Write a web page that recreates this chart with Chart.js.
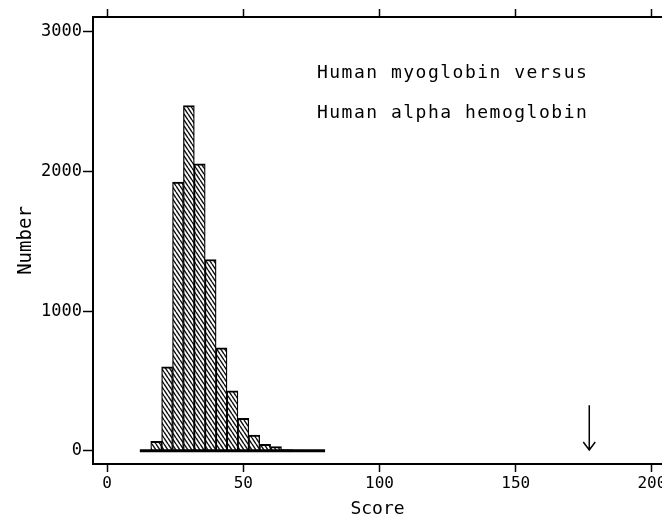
<!DOCTYPE html>
<html>
<head>
<meta charset="utf-8">
<script src="https://cdn.jsdelivr.net/npm/chart.js@4.4.1/dist/chart.umd.min.js"></script>
<style>
  html, body { margin: 0; padding: 0; background: #fff; }
  #wrap { width: 662px; height: 515px; }
</style>
</head>
<body>
<div id="wrap"><canvas id="histChart" width="662" height="515"></canvas></div>
<script>
// Score bins (left edge, width 4) and counts
const binStarts = [12, 16, 20, 24, 28, 32, 36, 40, 44, 48, 52, 56, 60, 64, 68, 72, 76];
const binWidth = 4;
const counts = [3, 67, 601, 1924, 2473, 2055, 1370, 737, 430, 232, 112, 46, 29, 8, 4, 2, 2];

// Baseline drawn under the whole range of observed scores
const baselineScores = [12, 80];

// Axis ticks
const xTicks = [0, 50, 100, 150, 200];
const yTicks = [0, 1000, 2000, 3000];

// Arrow marking the real alignment score
const arrowScore = 177;
const arrowFrom = 325;
const arrowTo = 5;

// Annotation text
const noteLines = ["Human myoglobin versus", "Human alpha hemoglobin"];
const noteScore = 77;
const noteLevels = [2668, 2382];

const FONT = "'DejaVu Sans Mono', 'Liberation Mono', monospace";

function makeHatch() {
    const w = 4, h = 6;
    const c = document.createElement("canvas");
    c.width = w; c.height = h;
    const g = c.getContext("2d");
    g.fillStyle = "#fff";
    g.fillRect(0, 0, w, h);
    g.strokeStyle = "#111";
    g.lineWidth = 1.45;
    g.beginPath();
    for (let k = -1; k <= 1; k++) {
        g.moveTo(k * w, 0);
        g.lineTo(k * w + w, h);
    }
    g.stroke();
    return g.createPattern(c, "repeat");
}

const notesAndArrow = {
    id: "notesAndArrow",
    afterDatasetsDraw(chart) {
        const { ctx, scales: { x, y } } = chart;
        ctx.save();
        ctx.fillStyle = "#000";
        ctx.font = "18px " + FONT;
        ctx.letterSpacing = "1.5px";
        ctx.textBaseline = "alphabetic";
        ctx.textAlign = "left";
        noteLines.forEach((t, i) => {
            ctx.fillText(t, x.getPixelForValue(noteScore), y.getPixelForValue(noteLevels[i]));
        });

        const ax = x.getPixelForValue(arrowScore);
        const y0 = y.getPixelForValue(arrowFrom);
        const y1 = y.getPixelForValue(arrowTo);
        ctx.strokeStyle = "#000";
        ctx.lineWidth = 1.5;
        ctx.beginPath();
        ctx.moveTo(ax, y0);
        ctx.lineTo(ax, y1);
        ctx.moveTo(ax - 6, y1 - 8);
        ctx.lineTo(ax, y1);
        ctx.lineTo(ax + 6, y1 - 8);
        ctx.stroke();
        ctx.restore();
    }
};

const setTicks = list => scale => { scale.ticks = list.map(v => ({ value: v })); };
const plain = v => String(v);

const xMin = -5.2, xMax = 203.7;
const tickGrid = len => ({ drawOnChartArea: false, drawTicks: true, offset: false, tickLength: len, tickWidth: 1.5, tickColor: "#000" });

const ctx = document.getElementById("histChart").getContext("2d");
new Chart(ctx, {
    type: "bar",
    data: {
        datasets: [{
            type: "line",
            label: "baseline",
            data: baselineScores.map(s => ({ x: s, y: 0 })),
            borderColor: "#000",
            borderWidth: 3,
            pointRadius: 0,
            order: 0
        }, {
            label: "Number",
            data: binStarts.map((s, i) => ({ x: s + binWidth / 2, y: counts[i] })),
            backgroundColor: makeHatch(),
            borderColor: "#000",
            borderWidth: { top: 2, bottom: 0, left: 1.3, right: 1.3 },
            borderSkipped: false,
            barPercentage: 1,
            categoryPercentage: 1,
            order: 1
        }]
    },
    options: {
        responsive: false,
        animation: false,
        layout: { padding: 0 },
        plugins: { legend: { display: false }, tooltip: { enabled: false } },
        scales: {
            x: {
                type: "linear",
                position: "bottom",
                offset: false,
                min: xMin,
                max: xMax,
                afterBuildTicks: setTicks(xTicks),
                afterFit: s => { s.height = 51; s.paddingLeft = 0; s.paddingRight = 0; },
                grid: tickGrid(8),
                border: { display: true, color: "#000", width: 2 },
                ticks: { color: "#000", font: { family: FONT, size: 16 }, padding: 2, maxRotation: 0, autoSkip: false, callback: plain },
                title: { display: true, text: "Score", color: "#000", font: { family: FONT, size: 18, lineHeight: 1 }, padding: { top: 0, bottom: -3 } }
            },
            xTop: {
                type: "linear",
                position: "top",
                offset: false,
                min: xMin,
                max: xMax,
                afterBuildTicks: setTicks(xTicks),
                afterFit: s => { s.height = 17; s.paddingLeft = 0; s.paddingRight = 0; },
                grid: tickGrid(8),
                border: { display: true, color: "#000", width: 2 },
                ticks: { display: false }
            },
            y: {
                type: "linear",
                min: -95,
                max: 3107,
                afterBuildTicks: setTicks(yTicks),
                afterFit: s => { s.width = 93; s.paddingTop = 0; s.paddingBottom = 0; },
                grid: tickGrid(10),
                border: { display: true, color: "#000", width: 2 },
                ticks: { color: "#000", font: { family: FONT, size: 17 }, padding: 1, callback: plain },
                title: { display: true, text: "Number", color: "#000", font: { family: FONT, size: 19, lineHeight: 1 }, padding: { top: 16.5, bottom: 0 } }
            }
        }
    },
    plugins: [notesAndArrow]
});
</script>
</body>
</html>
